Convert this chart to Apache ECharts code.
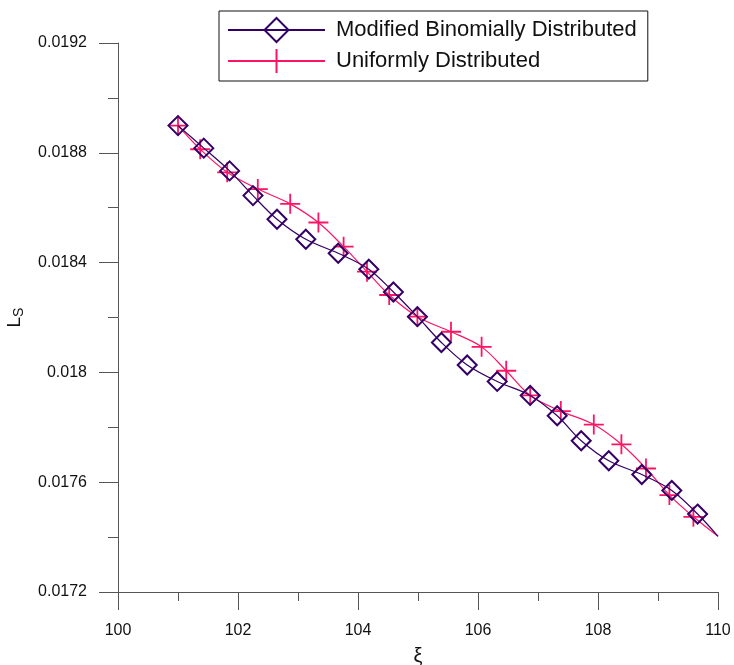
<!DOCTYPE html>
<html>
<head>
<meta charset="utf-8">
<script src="https://cdn.jsdelivr.net/npm/echarts@6/dist/echarts.min.js"></script>
<style>
  html, body { margin: 0; padding: 0; background: #fff; }
  #chart { width: 734px; height: 665px; }
</style>
</head>
<body>
<div id="chart"></div>
<script>
// values
const binomX = [101.0, 101.43, 101.86, 102.25, 102.65, 103.13, 103.67, 104.18, 104.59, 104.99, 105.39, 105.82, 106.32, 106.87, 107.32, 107.72, 108.18, 108.73, 109.23, 109.66]
const binomY = [0.018899, 0.018817, 0.018734, 0.018644, 0.018558, 0.018485, 0.018434, 0.018376, 0.018293, 0.018203, 0.018109, 0.018027, 0.017967, 0.017916, 0.017842, 0.017751, 0.017678, 0.017628, 0.01757, 0.017484]
const uniformX = [101.0, 101.37, 101.82, 102.33, 102.87, 103.34, 103.76, 104.15, 104.52, 104.99, 105.55, 106.06, 106.47, 106.87, 107.38, 107.93, 108.39, 108.8, 109.19, 109.59]
const uniformY = [0.018899, 0.018813, 0.018729, 0.018668, 0.018614, 0.018546, 0.018458, 0.018367, 0.018282, 0.018203, 0.018148, 0.018093, 0.018006, 0.017916, 0.017859, 0.01781, 0.017738, 0.01765, 0.017553, 0.017474]
// both curves run on to the right edge without a marker
const curveEnd = [110, 0.017403]

const xTicks = [100, 102, 104, 106, 108, 110]
const yTicks = [0.0172, 0.0176, 0.018, 0.0184, 0.0188, 0.0192]

const FONT = 'Liberation Sans, Arial, sans-serif'
const PURPLE = '#330066'
const PINK = '#ff1464'

function toPoints(xs, ys) {
  const pts = xs.map((x, i) => [x, ys[i]])
  pts.push({ value: curveEnd, symbol: 'none' })
  return pts
}

const chart = echarts.init(document.getElementById('chart'), null, { renderer: 'canvas' })
chart.setOption({
  animation: false,
  backgroundColor: '#fff',
  grid: { left: 118, right: 16, top: 43, bottom: 73, outerBoundsMode: 'none', containLabel: false },
  legend: {
    left: 219,
    top: 11,
    orient: 'vertical',
    itemWidth: 97,
    itemHeight: 30,
    itemGap: 5,
    itemTextGap: 12,
    padding: [6, 11, 7, 8],
    borderColor: '#111',
    borderWidth: 1,
    textStyle: { fontFamily: FONT, fontSize: 22, color: '#111', padding: [0, 0, 0, 6] },
    data: ['Modified Binomially Distributed', 'Uniformly Distributed']
  },
  xAxis: {
    type: 'value',
    min: xTicks[0],
    max: xTicks[xTicks.length - 1],
    interval: 2,
    name: 'ξ',
    nameLocation: 'middle',
    nameGap: 54,
    nameTextStyle: { fontFamily: FONT, fontSize: 20, color: '#111' },
    axisLine: { lineStyle: { color: '#555', width: 1 } },
    axisTick: { length: 18, lineStyle: { color: '#555' } },
    minorTick: { show: true, splitNumber: 2, length: 9, lineStyle: { color: '#555' } },
    splitLine: { show: false },
    axisLabel: { fontFamily: FONT, fontSize: 16, color: '#111', margin: 31 }
  },
  yAxis: {
    type: 'value',
    min: yTicks[0],
    max: yTicks[yTicks.length - 1],
    interval: 0.0004,
    name: '{l|L}{s|S}',
    nameLocation: 'middle',
    nameRotate: 90,
    nameGap: 92,
    nameTextStyle: {
      fontFamily: FONT, color: '#111',
      rich: {
        l: { fontFamily: FONT, fontSize: 19, color: '#111' },
        s: { fontFamily: FONT, fontSize: 14, color: '#111', padding: [8, 0, 0, 0] }
      }
    },
    axisLine: { show: true, lineStyle: { color: '#555', width: 1 } },
    axisTick: { show: true, length: 19, lineStyle: { color: '#555' } },
    minorTick: { show: true, splitNumber: 2, length: 10, lineStyle: { color: '#555' } },
    splitLine: { show: false },
    axisLabel: {
      fontFamily: FONT, fontSize: 16, color: '#111', margin: 31,
      formatter: v => String(+v.toFixed(4))
    }
  },
  series: [
    {
      name: 'Uniformly Distributed',
      type: 'line',
      smooth: 0.35,
      data: toPoints(uniformX, uniformY),
      symbol: 'path://M0,10H20M10,0V20',
      symbolSize: 20,
      itemStyle: { color: 'rgba(0,0,0,0)', borderColor: PINK, borderWidth: 1.8 },
      lineStyle: { color: PINK, width: 1.2 },
      z: 2
    },
    {
      name: 'Modified Binomially Distributed',
      type: 'line',
      smooth: 0.35,
      data: toPoints(binomX, binomY),
      symbol: 'diamond',
      symbolSize: 19,
      itemStyle: { color: 'rgba(0,0,0,0)', borderColor: PURPLE, borderWidth: 2 },
      lineStyle: { color: PURPLE, width: 1.2 },
      z: 3
    }
  ]
})
</script>
</body>
</html>
